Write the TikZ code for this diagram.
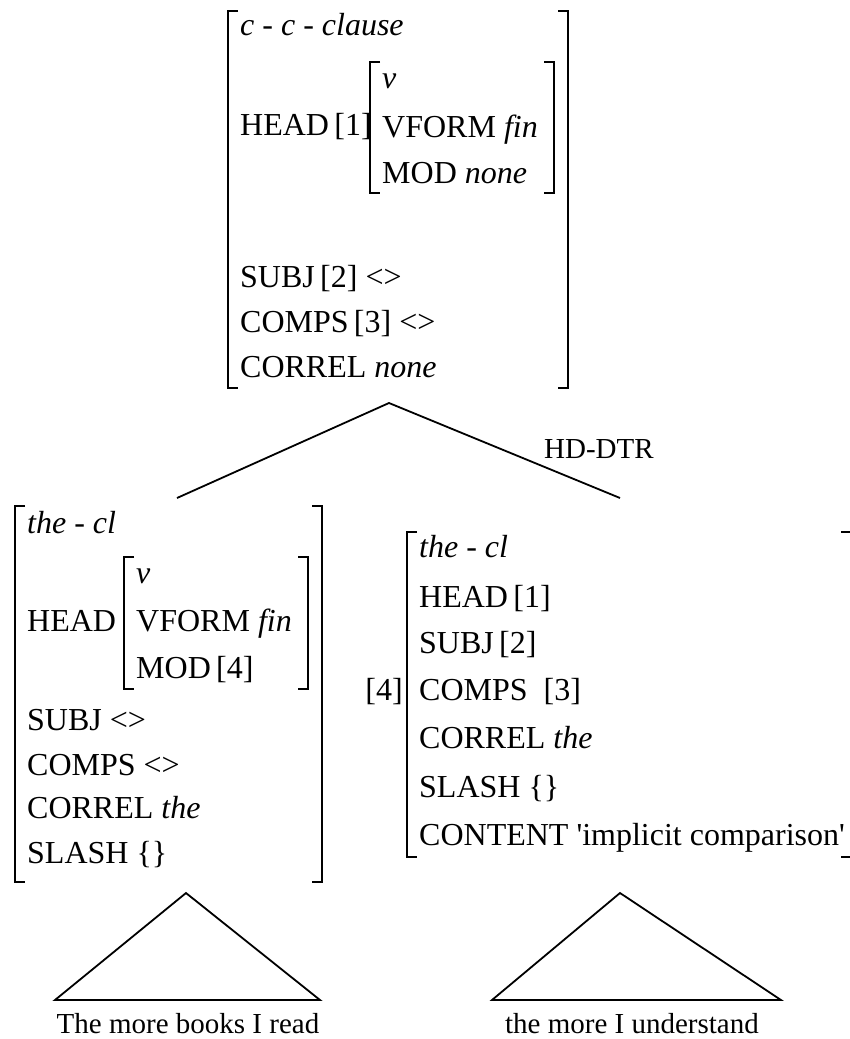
\documentclass[tikz,border=0pt]{standalone}
\usepackage{fontspec}
\setmainfont{Liberation Serif}
\usepackage{tikz}
\definecolor{ink}{HTML}{000000}
\tikzset{
  avmBracket/.style={draw=ink, line width=1.5pt},
  treeEdge/.style={draw=ink, line width=1.8pt},
  avmRow/.style={anchor=base west, inner sep=0pt, text=ink, font=\fontsize{32}{38}\selectfont},
  avmTag/.style={anchor=base east, inner sep=0pt, text=ink, font=\fontsize{32}{38}\selectfont},
  treeLabel/.style={anchor=base west, inner sep=0pt, text=ink, font=\fontsize{29}{34}\selectfont},
  yieldText/.style={anchor=base, inner sep=0pt, text=ink, font=\fontsize{29}{34}\selectfont}
}
% left and right bracket of a feature matrix: x1, top, x2, bottom
\newcommand{\avmBox}[4]{%
  \draw[avmBracket] (#1+10,#2) -- (#1,#2) -- (#1,#4) -- (#1+10,#4);
  \draw[avmBracket] (#3-10,#2) -- (#3,#2) -- (#3,#4) -- (#3-10,#4);
}

\begin{document}
\begin{tikzpicture}[x=1pt, y=-1pt]
  \useasboundingbox (0,0) rectangle (850,1039);

  % mother
  \avmBox{228}{11}{568}{388}
  \avmBox{370}{62}{554}{193}
  \node[avmRow] (mType) at (240,35) {\textit{c - c - clause}};
  \node[avmRow] (mHead) at (240,135) {HEAD\,[1]};
  \node[avmRow] (mPos) at (382,88) {\textit{v}};
  \node[avmRow] (mVform) at (382,137) {VFORM \textit{fin}};
  \node[avmRow] (mMod) at (382,183) {MOD \textit{none}};
  \node[avmRow] (mSubj) at (240,287) {SUBJ\,[2] <>};
  \node[avmRow] (mComps) at (240,332) {COMPS\,[3] <>};
  \node[avmRow] (mCorrel) at (240,377) {CORREL \textit{none}};

  \coordinate (mother) at (389,403);
  \coordinate (leftDtr) at (177,498);
  \coordinate (rightDtr) at (620,498);
  \draw[treeEdge] (leftDtr) -- (mother) -- (rightDtr);
  \node[treeLabel] (hdDtr) at (544,458) {HD-DTR};

  % left daughter
  \avmBox{15}{506}{322}{882}
  \avmBox{124}{557}{308}{689}
  \node[avmRow] (lType) at (27,533) {\textit{the - cl}};
  \node[avmRow] (lHead) at (27,631) {HEAD};
  \node[avmRow] (lPos) at (136,583) {\textit{v}};
  \node[avmRow] (lVform) at (136,631) {VFORM \textit{fin}};
  \node[avmRow] (lMod) at (136,678) {MOD\,[4]};
  \node[avmRow] (lSubj) at (27,730) {SUBJ <>};
  \node[avmRow] (lComps) at (27,775) {COMPS <>};
  \node[avmRow] (lCorrel) at (27,818) {CORREL \textit{the}};
  \node[avmRow] (lSlash) at (27,863) {SLASH \{\}};

  % right daughter
  \avmBox{407}{532}{851}{857}
  \node[avmTag] (rTag) at (403,700) {[4]};
  \node[avmRow] (rType) at (419,557) {\textit{the - cl}};
  \node[avmRow] (rHead) at (419,607) {HEAD\,[1]};
  \node[avmRow] (rSubj) at (419,653) {SUBJ\,[2]};
  \node[avmRow] (rComps) at (419,700) {COMPS\ \ [3]};
  \node[avmRow] (rCorrel) at (419,748) {CORREL \textit{the}};
  \node[avmRow] (rSlash) at (419,797) {SLASH \{\}};
  \node[avmRow] (rCont) at (419,845) {CONTENT \textquotesingle implicit comparison\textquotesingle};

  % yields
  \coordinate (leftApex) at (186,893);
  \coordinate (leftBaseW) at (55,1000);
  \coordinate (leftBaseE) at (320,1000);
  \draw[treeEdge] (leftApex) -- (leftBaseW) -- (leftBaseE) -- cycle;
  \coordinate (rightApex) at (620,893);
  \coordinate (rightBaseW) at (492,1000);
  \coordinate (rightBaseE) at (781,1000);
  \draw[treeEdge] (rightApex) -- (rightBaseW) -- (rightBaseE) -- cycle;
  \node[yieldText] (leftYield) at (188,1033) {The more books I read};
  \node[yieldText] (rightYield) at (632,1033) {the more I understand};
\end{tikzpicture}
\end{document}
